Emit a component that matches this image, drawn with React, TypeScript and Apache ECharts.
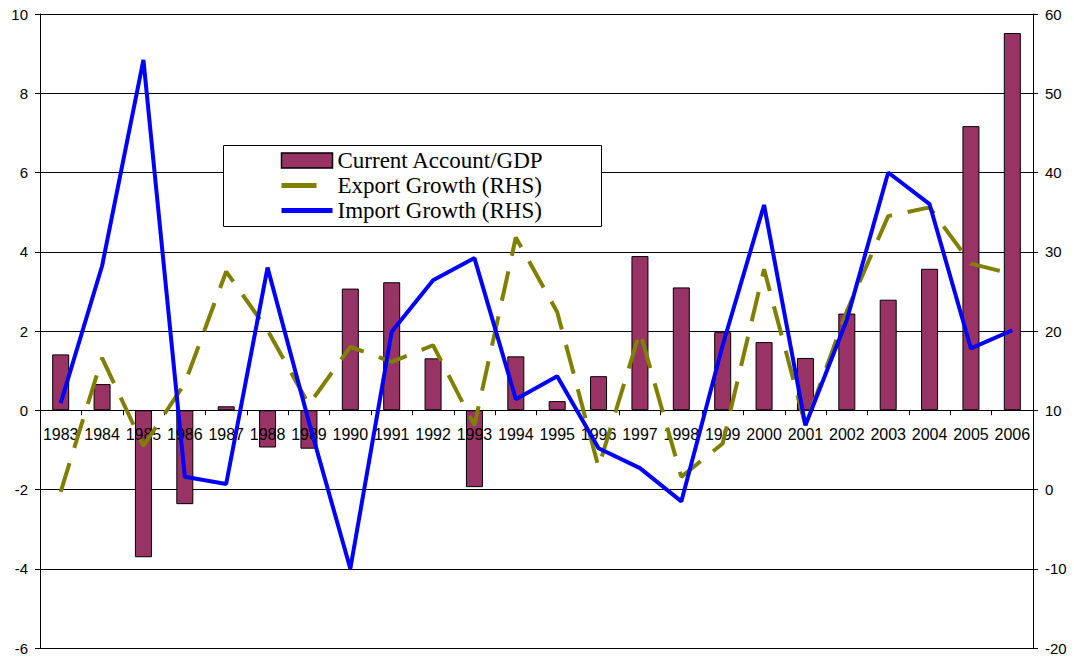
import React, { useEffect, useRef } from "react";
import * as echarts from "echarts";

const years = ["1983","1984","1985","1986","1987","1988","1989","1990","1991","1992","1993","1994","1995","1996","1997","1998","1999","2000","2001","2002","2003","2004","2005","2006"];
const currentAccount = [1.41, 0.66, -3.71, -2.37, 0.1, -0.94, -0.97, 3.07, 3.23, 1.31, -1.94, 1.36, 0.23, 0.86, 3.89, 3.1, 1.97, 1.72, 1.32, 2.44, 2.79, 3.57, 7.17, 9.52];
const exportGrowth = [-0.3, 16.6, 5.5, 13.4, 27.5, 20.1, 10.7, 18.0, 16.1, 18.2, 8.1, 31.8, 22.4, 2.8, 19.9, 1.6, 5.8, 27.8, 8.1, 22.5, 34.5, 35.6, 28.5, 27.2];
const importGrowth = [10.9, 28.2, 54.2, 1.6, 0.7, 28.0, 8.5, -10.0, 19.9, 26.4, 29.2, 11.4, 14.3, 5.2, 2.7, -1.5, 18.2, 35.9, 8.1, 21.4, 40.0, 36.0, 17.8, 20.1];
const leftTicks = { min: -6, max: 10, interval: 2 };
const rightTicks = { min: -20, max: 60, interval: 10 };
const seriesNames = ["Current Account/GDP", "Export Growth (RHS)", "Import Growth (RHS)"];

const GRID_TOP = 14;
const GRID_BOTTOM = 12;
const HEIGHT = 660;

export default function App() {
  const ref = useRef<HTMLDivElement>(null);
  useEffect(() => {
    if (!ref.current) return;
    const chart = echarts.init(ref.current, null, { renderer: "svg" });
    const axisFont = { fontFamily: "Liberation Sans, Arial", color: "#000" };
    const plotH = HEIGHT - GRID_TOP - GRID_BOTTOM;
    const zeroOffset = -plotH * (0 - leftTicks.min) / (leftTicks.max - leftTicks.min);
    chart.setOption({
      animation: false,
      backgroundColor: "#fff",
      grid: { left: 40, right: 41, top: GRID_TOP, bottom: GRID_BOTTOM, containLabel: false, outerBoundsMode: "none" },
      graphic: [
        {
          type: "rect",
          z: 5,
          shape: { x: 223.5, y: 145.5, width: 378, height: 81 },
          style: { fill: "#fff", stroke: "#000", lineWidth: 1 },
        },
      ],
      legend: {
        orient: "vertical",
        left: 223,
        top: 145,
        padding: [4, 20, 4, 56],
        itemGap: 2,
        itemWidth: 51,
        itemHeight: 15,
        z: 10,
        textStyle: { fontFamily: "Liberation Serif, Times New Roman", fontSize: 23, color: "#000" },
        data: [
          { name: seriesNames[0], icon: "rect", itemStyle: { borderWidth: 1.5 } },
          { name: seriesNames[1], itemStyle: { opacity: 0 }, lineStyle: { width: 5, type: [35, 16] } },
          { name: seriesNames[2], itemStyle: { opacity: 0 }, lineStyle: { width: 5 } },
        ],
      },
      xAxis: {
        type: "category",
        data: years,
        z: 2,
        position: "bottom",
        offset: zeroOffset,
        axisLine: { onZero: false, lineStyle: { color: "#000", width: 1 } },
        axisTick: { show: true, interval: 0, length: 5, lineStyle: { color: "#000" } },
        axisLabel: { interval: 0, fontSize: 16, margin: 16, ...axisFont },
        splitLine: { show: false },
      },
      yAxis: [
        {
          type: "value",
          position: "left",
          min: leftTicks.min,
          max: leftTicks.max,
          interval: leftTicks.interval,
          axisLine: { show: true, onZero: false, lineStyle: { color: "#000" } },
          axisTick: { show: true, length: 5, lineStyle: { color: "#000" } },
          axisLabel: { fontSize: 15, margin: 12, ...axisFont },
          splitLine: { show: true, lineStyle: { color: "#000", width: 1 } },
        },
        {
          type: "value",
          position: "right",
          min: rightTicks.min,
          max: rightTicks.max,
          interval: rightTicks.interval,
          axisLine: { show: true, onZero: false, lineStyle: { color: "#000" } },
          axisTick: { show: true, length: 5, lineStyle: { color: "#000" } },
          axisLabel: { fontSize: 15, margin: 12, ...axisFont },
          splitLine: { show: false },
        },
      ],
      series: [
        {
          name: seriesNames[0],
          type: "bar",
          yAxisIndex: 0,
          data: currentAccount,
          barWidth: 17,
          z: 1,
          itemStyle: { color: "#993366", borderColor: "#000", borderWidth: 1 },
        },
        {
          name: seriesNames[1],
          type: "line",
          yAxisIndex: 1,
          data: exportGrowth,
          symbol: "none",
          z: 3,
          lineStyle: { color: "#808000", width: 4, type: [30, 16], cap: "butt" },
          itemStyle: { color: "#808000" },
        },
        {
          name: seriesNames[2],
          type: "line",
          yAxisIndex: 1,
          data: importGrowth,
          symbol: "none",
          z: 4,
          lineStyle: { color: "#0000ff", width: 4 },
          itemStyle: { color: "#0000ff" },
        },
      ],
    });
    return () => chart.dispose();
  }, []);
  return <div ref={ref} style={{ position: "fixed", left: 0, top: 0, width: 1074, height: HEIGHT }} />;
}
